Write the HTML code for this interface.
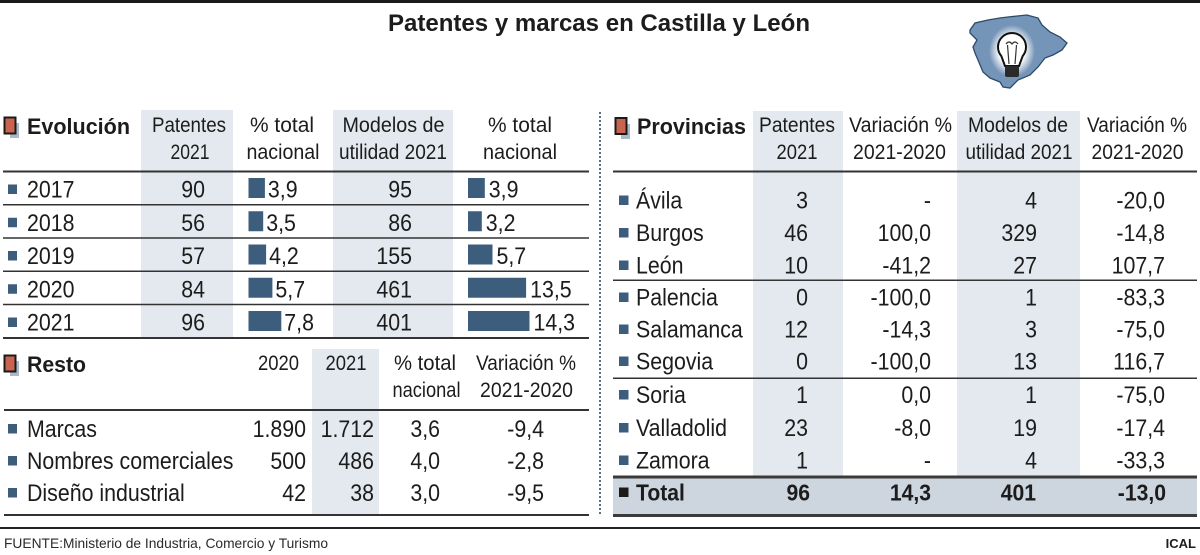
<!DOCTYPE html>
<html><head><meta charset="utf-8"><style>
html,body{margin:0;padding:0;background:#fff;}
svg{display:block;}
text{font-family:"Liberation Sans",Arial,sans-serif;fill:#1c1c1c;}
.h{font-size:21px;}
.b{font-size:24px;}
.t{font-size:23px;font-weight:bold;}
.s{font-size:22px;font-weight:bold;}
</style></head><body>
<svg width="1200" height="555" viewBox="0 0 1200 555" xmlns="http://www.w3.org/2000/svg">
<defs>
<radialGradient id="g" cx="50%" cy="50%" r="50%"><stop offset="0.55" stop-color="#fff"/><stop offset="1" stop-color="#fff" stop-opacity="0"/></radialGradient>
</defs>
<rect width="1200" height="555" fill="#fff"/>
<rect x="0" y="0" width="1200" height="3" fill="#1a1a1a"/>
<text x="388" y="31" font-size="24" font-weight="bold" textLength="422" lengthAdjust="spacingAndGlyphs">Patentes y marcas en Castilla y León</text>

<!-- map icon -->
<polygon points="970,30 975,23 988,20 1000,18 1008,17 1027,15 1038,18 1042,25 1050,32 1060,37 1067,43 1062,50 1053,55 1045,58 1038,67 1030,75 1018,80 1010,88 1003,87 1000,82 990,78 983,72 978,60 975,53 973,47 977,40 970,33" fill="#7595b8" stroke="#2c4a6a" stroke-width="1.3"/>
<ellipse cx="1012" cy="51" rx="23" ry="26" fill="url(#g)"/>
<path d="M1001.3,56 A14,14 0 1 1 1022.7,56 L1019,66 L1005,66 Z" fill="#fff" stroke="#111" stroke-width="2"/>
<path d="M1006,44 q3,-4 6,0 q3,-4 6,0 M1007.5,45 L1009,64 M1016.5,45 L1015,64" stroke="#333" fill="none" stroke-width="1.2"/>
<rect x="1005" y="66" width="14" height="11" rx="2" fill="#2a2a2a"/>

<!-- shading -->
<rect x="141" y="110" width="92" height="228" fill="#e3e9ee"/>
<rect x="333" y="110" width="120" height="228" fill="#e3e9ee"/>
<rect x="312" y="349" width="67" height="166" fill="#e3e9ee"/>
<rect x="753" y="111" width="90" height="366" fill="#e3e9ee"/>
<rect x="957" y="111" width="123" height="366" fill="#e3e9ee"/>
<rect x="613" y="477" width="584" height="38" fill="#cdd5de"/>

<!-- separator -->
<line x1="600" y1="112" x2="600" y2="516" stroke="#4f7580" stroke-width="2" stroke-dasharray="2 2"/>

<!-- icons -->
<rect x="10" y="123" width="9" height="15" fill="#a9bbcb"/>
<rect x="4.5" y="117.5" width="11" height="16" fill="#c8644f" stroke="#1a1a1a" stroke-width="2"/>
<rect x="10" y="361" width="9" height="15" fill="#a9bbcb"/>
<rect x="4.5" y="355.5" width="11" height="16" fill="#c8644f" stroke="#1a1a1a" stroke-width="2"/>
<rect x="621" y="124" width="9" height="15" fill="#a9bbcb"/>
<rect x="615.5" y="118" width="11" height="16" fill="#c8644f" stroke="#1a1a1a" stroke-width="2"/>

<!-- section titles -->
<text class="s" x="27" y="134" textLength="103" lengthAdjust="spacingAndGlyphs">Evolución</text>
<text class="s" x="27" y="372" textLength="59" lengthAdjust="spacingAndGlyphs">Resto</text>
<text class="s" x="637" y="134" textLength="109" lengthAdjust="spacingAndGlyphs">Provincias</text>

<!-- Evolution headers -->
<g class="h" text-anchor="middle">
<text class="h" x="189" y="132" textLength="74" lengthAdjust="spacingAndGlyphs">Patentes</text>
<text class="h" x="190" y="159" textLength="39" lengthAdjust="spacingAndGlyphs">2021</text>
<text class="h" x="282" y="132" textLength="64" lengthAdjust="spacingAndGlyphs">% total</text>
<text class="h" x="283" y="159" textLength="73" lengthAdjust="spacingAndGlyphs">nacional</text>
<text class="h" x="393.5" y="132" textLength="102" lengthAdjust="spacingAndGlyphs">Modelos de</text>
<text class="h" x="393" y="159" textLength="108" lengthAdjust="spacingAndGlyphs">utilidad 2021</text>
<text class="h" x="520" y="132" textLength="64" lengthAdjust="spacingAndGlyphs">% total</text>
<text class="h" x="520" y="159" textLength="74" lengthAdjust="spacingAndGlyphs">nacional</text>
<!-- Resto headers -->
<text class="h" x="278.5" y="370" textLength="41" lengthAdjust="spacingAndGlyphs">2020</text>
<text class="h" x="346" y="370" textLength="41" lengthAdjust="spacingAndGlyphs">2021</text>
<text class="h" x="425" y="370" textLength="62" lengthAdjust="spacingAndGlyphs">% total</text>
<text class="h" x="426.5" y="397" textLength="68" lengthAdjust="spacingAndGlyphs">nacional</text>
<text class="h" x="526" y="370" textLength="100" lengthAdjust="spacingAndGlyphs">Variación %</text>
<text class="h" x="526.5" y="397" textLength="93" lengthAdjust="spacingAndGlyphs">2021-2020</text>
<!-- Provincias headers -->
<text class="h" x="797" y="132" textLength="76" lengthAdjust="spacingAndGlyphs">Patentes</text>
<text class="h" x="797" y="159" textLength="41" lengthAdjust="spacingAndGlyphs">2021</text>
<text class="h" x="900.5" y="132" textLength="103" lengthAdjust="spacingAndGlyphs">Variación %</text>
<text class="h" x="899.5" y="159" textLength="93" lengthAdjust="spacingAndGlyphs">2021-2020</text>
<text class="h" x="1018" y="132" textLength="100" lengthAdjust="spacingAndGlyphs">Modelos de</text>
<text class="h" x="1019" y="159" textLength="107" lengthAdjust="spacingAndGlyphs">utilidad 2021</text>
<text class="h" x="1137" y="132" textLength="100" lengthAdjust="spacingAndGlyphs">Variación %</text>
<text class="h" x="1137.5" y="159" textLength="92" lengthAdjust="spacingAndGlyphs">2021-2020</text>
</g>

<!-- lines -->
<g fill="#333">
<rect x="3" y="170.5" width="586" height="2"/>
<rect x="3" y="204" width="586" height="1.5"/>
<rect x="3" y="237.25" width="586" height="1.5"/>
<rect x="3" y="270.5" width="586" height="1.5"/>
<rect x="3" y="303.75" width="586" height="1.5"/>
<rect x="3" y="337" width="586" height="2"/>
<rect x="4" y="409" width="585" height="2"/>
<rect x="4" y="514" width="585" height="2"/>
<rect x="613" y="170.5" width="584" height="2"/>
<rect x="613" y="279.5" width="584" height="1.5"/>
<rect x="613" y="377.5" width="584" height="1.5"/>
<rect x="613" y="475.5" width="584" height="3" fill="#3a3a3a"/>
<rect x="613" y="514" width="584" height="3" fill="#3a3a3a"/>
<rect x="0" y="527" width="1200" height="2" fill="#222"/>
</g>

<!-- bullets -->
<g fill="#3d5d7d">
<rect x="8" y="184.5" width="9" height="9.5"/>
<rect x="8" y="217.75" width="9" height="9.5"/>
<rect x="8" y="251" width="9" height="9.5"/>
<rect x="8" y="284.25" width="9" height="9.5"/>
<rect x="8" y="317.5" width="9" height="9.5"/>
<rect x="8" y="424" width="9" height="9.5"/>
<rect x="8" y="456" width="9" height="9.5"/>
<rect x="8" y="488" width="9" height="9.5"/>
<rect x="619" y="195.5" width="9.5" height="9.5"/>
<rect x="619" y="228" width="9.5" height="9.5"/>
<rect x="619" y="260.5" width="9.5" height="9.5"/>
<rect x="619" y="292.5" width="9.5" height="9.5"/>
<rect x="619" y="324.5" width="9.5" height="9.5"/>
<rect x="619" y="356.5" width="9.5" height="9.5"/>
<rect x="619" y="390" width="9.5" height="9.5"/>
<rect x="619" y="423" width="9.5" height="9.5"/>
<rect x="619" y="455.5" width="9.5" height="9.5"/>
<rect x="619" y="487.5" width="9.5" height="9.5" fill="#1e1a18"/>
</g>

<!-- bars -->
<g fill="#3d5d7d">
<rect x="248.5" y="178" width="16.4" height="20"/>
<rect x="248.5" y="211.25" width="14.7" height="20"/>
<rect x="248.5" y="244.5" width="17.6" height="20"/>
<rect x="248.5" y="277.75" width="23.9" height="20"/>
<rect x="248.5" y="311" width="32.8" height="20"/>
<rect x="468" y="178" width="16.8" height="20"/>
<rect x="468" y="211.25" width="13.8" height="20"/>
<rect x="468" y="244.5" width="24.5" height="20"/>
<rect x="468" y="277.75" width="58.1" height="20"/>
<rect x="468" y="311" width="61.5" height="20"/>
</g>

<!-- Evolution rows -->
<g class="b">
<text class="b" transform="translate(27,197.5) scale(.89,1)">2017</text>
<text class="b" transform="translate(27,230.75) scale(.89,1)">2018</text>
<text class="b" transform="translate(27,264) scale(.89,1)">2019</text>
<text class="b" transform="translate(27,297.25) scale(.89,1)">2020</text>
<text class="b" transform="translate(27,330.5) scale(.89,1)">2021</text>

<text class="b" text-anchor="end" transform="translate(205,197.5) scale(.89,1)">90</text>
<text class="b" text-anchor="end" transform="translate(205,230.75) scale(.89,1)">56</text>
<text class="b" text-anchor="end" transform="translate(205,264) scale(.89,1)">57</text>
<text class="b" text-anchor="end" transform="translate(205,297.25) scale(.89,1)">84</text>
<text class="b" text-anchor="end" transform="translate(205,330.5) scale(.89,1)">96</text>

<text class="b" transform="translate(267.9,197.5) scale(.89,1)">3,9</text>
<text class="b" transform="translate(266.2,230.75) scale(.89,1)">3,5</text>
<text class="b" transform="translate(269.1,264) scale(.89,1)">4,2</text>
<text class="b" transform="translate(275.4,297.25) scale(.89,1)">5,7</text>
<text class="b" transform="translate(284.3,330.5) scale(.89,1)">7,8</text>

<text class="b" text-anchor="end" transform="translate(412,197.5) scale(.89,1)">95</text>
<text class="b" text-anchor="end" transform="translate(412,230.75) scale(.89,1)">86</text>
<text class="b" text-anchor="end" transform="translate(412,264) scale(.89,1)">155</text>
<text class="b" text-anchor="end" transform="translate(412,297.25) scale(.89,1)">461</text>
<text class="b" text-anchor="end" transform="translate(412,330.5) scale(.89,1)">401</text>

<text class="b" transform="translate(488.8,197.5) scale(.89,1)">3,9</text>
<text class="b" transform="translate(485.8,230.75) scale(.89,1)">3,2</text>
<text class="b" transform="translate(496.5,264) scale(.89,1)">5,7</text>
<text class="b" transform="translate(530.1,297.25) scale(.89,1)">13,5</text>
<text class="b" transform="translate(533.5,330.5) scale(.89,1)">14,3</text>

<!-- Resto rows -->
<text class="b" transform="translate(27,437) scale(.89,1)">Marcas</text>
<text class="b" transform="translate(27,469) scale(.89,1)">Nombres comerciales</text>
<text class="b" transform="translate(27,501) scale(.89,1)">Diseño industrial</text>
<text class="b" text-anchor="end" transform="translate(306,437) scale(.89,1)">1.890</text>
<text class="b" text-anchor="end" transform="translate(306,469) scale(.89,1)">500</text>
<text class="b" text-anchor="end" transform="translate(306,501) scale(.89,1)">42</text>
<text class="b" text-anchor="end" transform="translate(374,437) scale(.89,1)">1.712</text>
<text class="b" text-anchor="end" transform="translate(374,469) scale(.89,1)">486</text>
<text class="b" text-anchor="end" transform="translate(374,501) scale(.89,1)">38</text>
<text class="b" text-anchor="end" transform="translate(440,437) scale(.89,1)">3,6</text>
<text class="b" text-anchor="end" transform="translate(440,469) scale(.89,1)">4,0</text>
<text class="b" text-anchor="end" transform="translate(440,501) scale(.89,1)">3,0</text>
<text class="b" text-anchor="end" transform="translate(544,437) scale(.89,1)">-9,4</text>
<text class="b" text-anchor="end" transform="translate(544,469) scale(.89,1)">-2,8</text>
<text class="b" text-anchor="end" transform="translate(544,501) scale(.89,1)">-9,5</text>

<!-- Provincias rows -->
<text class="b" transform="translate(636,208.5) scale(.89,1)">Ávila</text>
<text class="b" transform="translate(636,241) scale(.89,1)">Burgos</text>
<text class="b" transform="translate(636,273.5) scale(.89,1)">León</text>
<text class="b" transform="translate(636,305.5) scale(.89,1)">Palencia</text>
<text class="b" transform="translate(636,337.5) scale(.89,1)">Salamanca</text>
<text class="b" transform="translate(636,369.5) scale(.89,1)">Segovia</text>
<text class="b" transform="translate(636,403) scale(.89,1)">Soria</text>
<text class="b" transform="translate(636,436) scale(.89,1)">Valladolid</text>
<text class="b" transform="translate(636,468.5) scale(.89,1)">Zamora</text>

<text class="b" text-anchor="end" transform="translate(808,208.5) scale(.89,1)">3</text>
<text class="b" text-anchor="end" transform="translate(808,241) scale(.89,1)">46</text>
<text class="b" text-anchor="end" transform="translate(808,273.5) scale(.89,1)">10</text>
<text class="b" text-anchor="end" transform="translate(808,305.5) scale(.89,1)">0</text>
<text class="b" text-anchor="end" transform="translate(808,337.5) scale(.89,1)">12</text>
<text class="b" text-anchor="end" transform="translate(808,369.5) scale(.89,1)">0</text>
<text class="b" text-anchor="end" transform="translate(808,403) scale(.89,1)">1</text>
<text class="b" text-anchor="end" transform="translate(808,436) scale(.89,1)">23</text>
<text class="b" text-anchor="end" transform="translate(808,468.5) scale(.89,1)">1</text>

<text class="b" text-anchor="end" transform="translate(931,208.5) scale(.89,1)">-</text>
<text class="b" text-anchor="end" transform="translate(931,241) scale(.89,1)">100,0</text>
<text class="b" text-anchor="end" transform="translate(931,273.5) scale(.89,1)">-41,2</text>
<text class="b" text-anchor="end" transform="translate(931,305.5) scale(.89,1)">-100,0</text>
<text class="b" text-anchor="end" transform="translate(931,337.5) scale(.89,1)">-14,3</text>
<text class="b" text-anchor="end" transform="translate(931,369.5) scale(.89,1)">-100,0</text>
<text class="b" text-anchor="end" transform="translate(931,403) scale(.89,1)">0,0</text>
<text class="b" text-anchor="end" transform="translate(931,436) scale(.89,1)">-8,0</text>
<text class="b" text-anchor="end" transform="translate(931,468.5) scale(.89,1)">-</text>

<text class="b" text-anchor="end" transform="translate(1037,208.5) scale(.89,1)">4</text>
<text class="b" text-anchor="end" transform="translate(1037,241) scale(.89,1)">329</text>
<text class="b" text-anchor="end" transform="translate(1037,273.5) scale(.89,1)">27</text>
<text class="b" text-anchor="end" transform="translate(1037,305.5) scale(.89,1)">1</text>
<text class="b" text-anchor="end" transform="translate(1037,337.5) scale(.89,1)">3</text>
<text class="b" text-anchor="end" transform="translate(1037,369.5) scale(.89,1)">13</text>
<text class="b" text-anchor="end" transform="translate(1037,403) scale(.89,1)">1</text>
<text class="b" text-anchor="end" transform="translate(1037,436) scale(.89,1)">19</text>
<text class="b" text-anchor="end" transform="translate(1037,468.5) scale(.89,1)">4</text>

<text class="b" text-anchor="end" transform="translate(1165,208.5) scale(.89,1)">-20,0</text>
<text class="b" text-anchor="end" transform="translate(1165,241) scale(.89,1)">-14,8</text>
<text class="b" text-anchor="end" transform="translate(1165,273.5) scale(.89,1)">107,7</text>
<text class="b" text-anchor="end" transform="translate(1165,305.5) scale(.89,1)">-83,3</text>
<text class="b" text-anchor="end" transform="translate(1165,337.5) scale(.89,1)">-75,0</text>
<text class="b" text-anchor="end" transform="translate(1165,369.5) scale(.89,1)">116,7</text>
<text class="b" text-anchor="end" transform="translate(1165,403) scale(.89,1)">-75,0</text>
<text class="b" text-anchor="end" transform="translate(1165,436) scale(.89,1)">-17,4</text>
<text class="b" text-anchor="end" transform="translate(1165,468.5) scale(.89,1)">-33,3</text>
</g>

<!-- Total row -->
<text class="t" transform="translate(636,500.5) scale(.92,1)">Total</text>
<text class="t" text-anchor="end" transform="translate(810,500.5) scale(.92,1)">96</text>
<text class="t" text-anchor="end" transform="translate(931,500.5) scale(.92,1)">14,3</text>
<text class="t" text-anchor="end" transform="translate(1036,500.5) scale(.92,1)">401</text>
<text class="t" text-anchor="end" transform="translate(1166,500.5) scale(.92,1)">-13,0</text>

<!-- footer -->
<text x="4" y="548" font-size="14" textLength="324" lengthAdjust="spacingAndGlyphs" style="fill:#2a2a2a">FUENTE:Ministerio de Industria, Comercio y Turismo</text>
<text x="1196" y="548" font-size="13" font-weight="bold" text-anchor="end">ICAL</text>
</svg>
</body></html>
